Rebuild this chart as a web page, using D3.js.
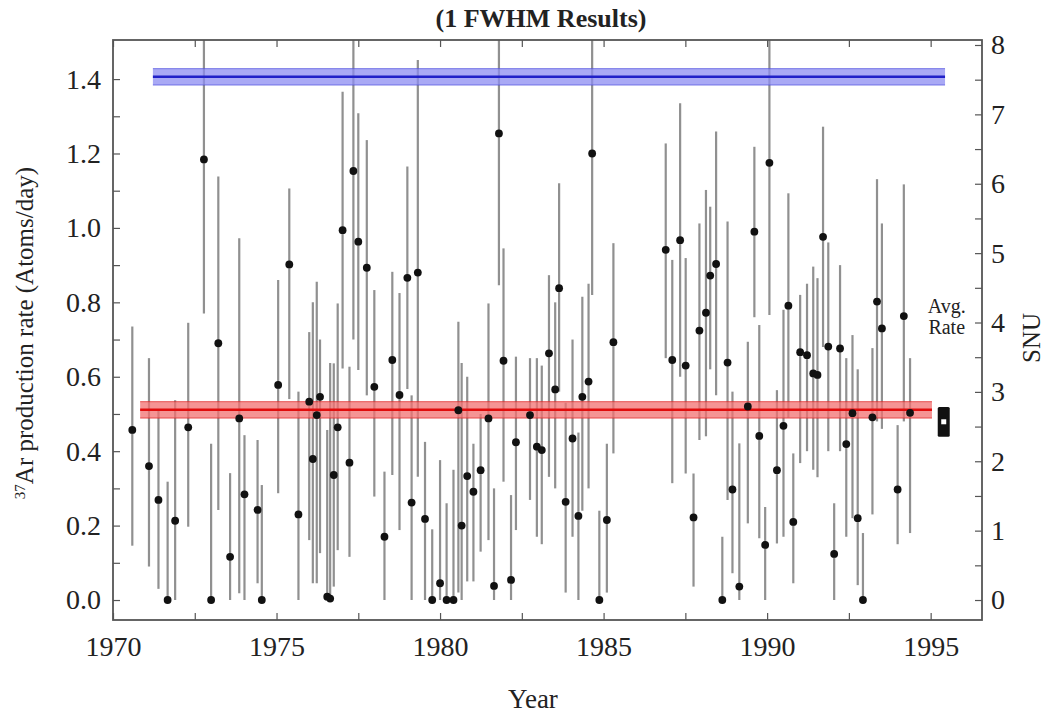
<!DOCTYPE html>
<html>
<head>
<meta charset="utf-8">
<script src="https://cdn.jsdelivr.net/npm/d3@7"></script>
<style>
  body { margin: 0; background: #fff; }
  text { font-family: "Liberation Serif", "DejaVu Serif", serif; fill: #222; }
</style>
</head>
<body>
<div id="plot-container"></div>
<script>
// Run years (decimal) and 37Ar production rate with 1 FWHM range
const years = [1970.59, 1971.10, 1971.39, 1971.67, 1971.90, 1972.30, 1972.78, 1973.00, 1973.22, 1973.58,
  1973.86, 1974.02, 1974.42, 1974.55, 1975.05, 1975.39, 1975.67, 1976.00, 1976.11, 1976.23,
  1976.33, 1976.55, 1976.64, 1976.75, 1976.87, 1977.02, 1977.23, 1977.35, 1977.50, 1977.76,
  1977.99, 1978.30, 1978.54, 1978.76, 1979.00, 1979.13, 1979.32, 1979.54, 1979.76, 1980.00,
  1980.20, 1980.41, 1980.56, 1980.66, 1980.83, 1981.02, 1981.24, 1981.48, 1981.65, 1981.80,
  1981.94, 1982.17, 1982.32, 1982.75, 1982.96, 1983.11, 1983.33, 1983.52, 1983.64, 1983.84,
  1984.05, 1984.23, 1984.35, 1984.54, 1984.65, 1984.87, 1985.10, 1985.30, 1986.90, 1987.10,
  1987.34, 1987.51, 1987.75, 1987.93, 1988.13, 1988.26, 1988.44, 1988.63, 1988.79, 1988.94,
  1989.15, 1989.41, 1989.61, 1989.76, 1989.94, 1990.07, 1990.30, 1990.50, 1990.65, 1990.80,
  1991.01, 1991.22, 1991.41, 1991.54, 1991.71, 1991.87, 1992.05, 1992.23, 1992.42, 1992.61,
  1992.77, 1992.93, 1993.22, 1993.36, 1993.51, 1993.99, 1994.18, 1994.37];
const rates = [0.457, 0.36, 0.269, 0, 0.213, 0.464, 1.184, 0, 0.69, 0.116,
  0.488, 0.284, 0.242, 0, 0.578, 0.902, 0.23, 0.533, 0.379, 0.497,
  0.546, 0.009, 0.004, 0.336, 0.464, 0.994, 0.369, 1.153, 0.963, 0.893,
  0.573, 0.17, 0.645, 0.551, 0.866, 0.262, 0.88, 0.218, 0, 0.045,
  0, 0, 0.51, 0.2, 0.333, 0.291, 0.349, 0.488, 0.038, 1.254,
  0.643, 0.054, 0.424, 0.497, 0.412, 0.403, 0.663, 0.566, 0.838, 0.264,
  0.434, 0.226, 0.546, 0.587, 1.2, 0, 0.215, 0.693, 0.941, 0.645,
  0.967, 0.63, 0.222, 0.724, 0.772, 0.872, 0.903, 0, 0.638, 0.297,
  0.036, 0.52, 0.99, 0.441, 0.148, 1.175, 0.349, 0.468, 0.791, 0.21,
  0.666, 0.658, 0.609, 0.605, 0.976, 0.681, 0.124, 0.676, 0.419, 0.502,
  0.22, 0, 0.491, 0.802, 0.73, 0.297, 0.763, 0.503];
const rateLo = [0.146, 0.09, 0.03, 0, 0, 0.197, 0.77, 0, 0.242, 0,
  0.018, 0, 0.045, 0, 0.287, 0.54, 0, 0.161, 0.045, 0.045,
  0.126, 0, 0, 0.036, 0.134, 0.622, 0.116, 0.70, 0.618, 0.55,
  0.278, 0, 0.336, 0.188, 0.567, 0, 0.331, 0, 0, 0,
  0, 0, 0.02, 0, 0.05, 0.05, 0.13, 0.161, 0, 0.846,
  0.318, 0, 0.188, 0.269, 0.17, 0.15, 0.331, 0.3, 0.56, 0.02,
  0.17, 0, 0.24, 0.3, 0.82, 0, 0.02, 0.394, 0.65, 0.314,
  0.6, 0.34, 0.036, 0.43, 0.44, 0.62, 0.55, 0, 0.269, 0.072,
  0, 0.206, 0.76, 0.166, 0, 0.766, 0.152, 0.17, 0.49, 0.045,
  0.368, 0.4, 0.35, 0.33, 0.68, 0.4, 0, 0.4, 0.17, 0.22,
  0.04, 0, 0.23, 0.48, 0.46, 0.15, 0.48, 0.18];
const rateHi = [0.735, 0.65, 0.51, 0.318, 0.537, 0.745, 1.60, 0.42, 1.138, 0.341,
  0.972, 0.443, 0.43, 0.309, 0.86, 1.106, 0.56, 0.72, 0.80, 0.855,
  0.70, 0.457, 0.637, 0.636, 0.797, 1.366, 0.627, 1.60, 1.308, 1.236,
  0.833, 0.345, 0.882, 0.825, 1.165, 0.55, 1.451, 0.425, 0.19, 0.376,
  0.26, 0.35, 0.748, 0.637, 0.6, 0.42, 0.5, 0.797, 0.3, 1.60,
  0.945, 0.282, 0.654, 0.65, 0.65, 0.63, 0.873, 0.8, 1.12, 0.53,
  0.7, 0.45, 0.815, 0.85, 1.60, 0.24, 0.42, 0.959, 1.227, 0.914,
  1.335, 0.919, 0.34, 1.012, 1.102, 1.057, 1.259, 0.17, 1.017, 0.56,
  0.421, 0.694, 1.218, 0.739, 0.25, 1.60, 0.564, 0.78, 1.093, 0.394,
  0.82, 0.85, 0.896, 0.865, 1.272, 0.961, 0.26, 0.9, 0.65, 0.712,
  0.62, 0.18, 0.677, 1.131, 1.012, 0.47, 1.117, 0.65];

// Horizontal bands: [value, half width, start year, end year]
const predicted = [1.406, 0.022, 1971.22, 1995.44];
const measured = [0.511, 0.022, 1970.83, 1995.04];
const avgRate = [0.479, 0.04, 1995.4];

const yTicks = [0, 0.2, 0.4, 0.6, 0.8, 1.0, 1.2, 1.4];
const snuTicks = [0, 1, 2, 3, 4, 5, 6, 7, 8];
const xTicks = [1970, 1975, 1980, 1985, 1990, 1995];

const W = 1048, H = 720;
const margin = {top: 40, right: 66, bottom: 100, left: 113};
const width = W - margin.left - margin.right,
      height = H - margin.top - margin.bottom;

const svg = d3.select("#plot-container").append("svg")
    .attr("width", W)
    .attr("height", H)
  .append("g")
    .attr("transform", `translate(${margin.left}, ${margin.top})`);

const x = d3.scaleLinear().domain([1970, 1996.57]).range([0, width]);
const y = d3.scaleLinear().domain([-0.0537, 1.505]).range([height, 0]);
const ySnu = d3.scaleLinear().domain([-0.288, 8.072]).range([height, 0]);

svg.append("clipPath").attr("id", "clip")
  .append("rect").attr("width", width).attr("height", height);

const plot = svg.append("g").attr("clip-path", "url(#clip)");

function band(v, color, light, dark) {
  const g = plot.append("g");
  g.append("rect")
    .attr("x", x(v[2])).attr("width", x(v[3]) - x(v[2]))
    .attr("y", y(v[0] + v[1])).attr("height", y(v[0] - v[1]) - y(v[0] + v[1]))
    .attr("fill", light).attr("opacity", 0.75);
  [v[0] - v[1], v[0] + v[1]].forEach(function (e) {
    g.append("line")
      .attr("x1", x(v[2])).attr("x2", x(v[3]))
      .attr("y1", y(e)).attr("y2", y(e))
      .attr("stroke", color).attr("stroke-width", 1).attr("opacity", 0.7);
  });
  g.append("line")
    .attr("x1", x(v[2])).attr("x2", x(v[3]))
    .attr("y1", y(v[0])).attr("y2", y(v[0]))
    .attr("stroke", dark).attr("stroke-width", 2.5);
}

// Error bars
const data = years.map(function (d, i) {
  return {year: d, rate: rates[i], lo: rateLo[i], hi: rateHi[i]};
});

plot.selectAll("line.err")
  .data(data)
  .join("line")
  .attr("class", "err")
  .attr("x1", d => x(d.year)).attr("x2", d => x(d.year))
  .attr("y1", d => y(d.lo)).attr("y2", d => y(d.hi))
  .attr("stroke", "#7d7d7d")
  .attr("stroke-width", 2.2)
  .attr("opacity", 0.85);

band(predicted, "#5050e0", "#8c8cf2", "#2020c8");
band(measured, "#e02020", "#f27070", "#e00c0c");

plot.selectAll("circle")
  .data(data)
  .join("circle")
  .attr("cx", d => x(d.year))
  .attr("cy", d => y(d.rate))
  .attr("r", 3.9)
  .attr("fill", "#111");

// Average rate marker
svg.append("rect")
  .attr("x", x(avgRate[2]) - 6).attr("width", 12)
  .attr("y", y(avgRate[0] + avgRate[1]))
  .attr("height", y(avgRate[0] - avgRate[1]) - y(avgRate[0] + avgRate[1]))
  .attr("rx", 1.5)
  .attr("fill", "#111");
svg.append("rect")
  .attr("x", x(avgRate[2]) - 2.5).attr("width", 5)
  .attr("y", y(avgRate[0]) - 2.5).attr("height", 5)
  .attr("fill", "#fff");
svg.append("text")
  .attr("x", x(avgRate[2]) + 3).attr("y", 273)
  .attr("text-anchor", "middle")
  .style("font-size", "20px")
  .text("Avg.");
svg.append("text")
  .attr("x", x(avgRate[2]) + 3).attr("y", 294)
  .attr("text-anchor", "middle")
  .style("font-size", "20px")
  .text("Rate");

// Axes with inward ticks
function styleAxis(g) {
  g.select(".domain").remove();
  g.selectAll(".tick line").attr("stroke", "#555").attr("stroke-width", 1.2);
  g.selectAll(".tick text").style("font-size", "28px").attr("fill", "#222");
}

svg.append("g")
  .call(d3.axisLeft(y).tickValues(d3.range(0, 1.45, 0.1)).tickSize(-7).tickFormat(""))
  .call(styleAxis);
svg.append("g")
  .call(d3.axisLeft(y).tickValues(yTicks).tickSize(0).tickPadding(12).tickFormat(d3.format(".1f")))
  .call(styleAxis);

svg.append("g")
  .attr("transform", `translate(${width}, 0)`)
  .call(d3.axisRight(ySnu).tickValues(d3.range(0, 8.01, 0.5)).tickSize(-7).tickFormat(""))
  .call(styleAxis);
svg.append("g")
  .attr("transform", `translate(${width}, 0)`)
  .call(d3.axisRight(ySnu).tickValues(snuTicks).tickSize(0).tickPadding(9).tickFormat(d3.format("d")))
  .call(styleAxis);

const xMinor = d3.range(1970, 1996.1, 2.5);
svg.append("g")
  .attr("transform", `translate(0, ${height})`)
  .call(d3.axisBottom(x).tickValues(xMinor).tickSize(-7).tickFormat(""))
  .call(styleAxis);
svg.append("g")
  .call(d3.axisTop(x).tickValues(xMinor).tickSize(-7).tickFormat(""))
  .call(styleAxis);
svg.append("g")
  .attr("transform", `translate(0, ${height})`)
  .call(d3.axisBottom(x).tickValues(xTicks).tickSize(0).tickPadding(16).tickFormat(d3.format("d")))
  .call(styleAxis);

svg.append("rect")
  .attr("width", width).attr("height", height)
  .attr("fill", "none")
  .attr("stroke", "#555")
  .attr("stroke-width", 1.8);

// Labels
svg.append("text")
  .attr("x", 428).attr("y", -13)
  .attr("text-anchor", "middle")
  .style("font-size", "26px")
  .style("font-weight", "bold")
  .text("(1 FWHM Results)");

svg.append("text")
  .attr("x", 420).attr("y", 668)
  .attr("text-anchor", "middle")
  .style("font-size", "27px")
  .text("Year");

const yl = svg.append("text")
  .attr("transform", `translate(${-80}, ${293}) rotate(-90)`)
  .attr("text-anchor", "middle")
  .style("font-size", "25px");
yl.append("tspan").attr("baseline-shift", "super").style("font-size", "15px").text("37");
yl.append("tspan").text("Ar production rate (Atoms/day)");

svg.append("text")
  .attr("transform", `translate(${width + 58}, ${298}) rotate(-90)`)
  .attr("text-anchor", "middle")
  .style("font-size", "25px")
  .text("SNU");
</script>
</body>
</html>
